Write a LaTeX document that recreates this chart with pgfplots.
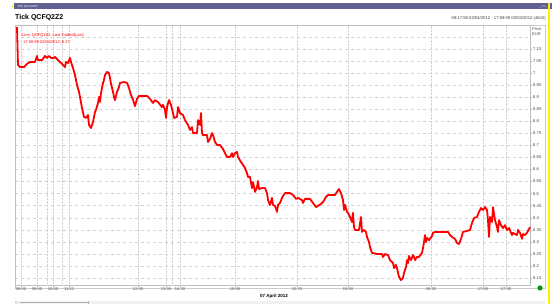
\documentclass[border=0pt]{standalone}
\usepackage{fontspec}
\setmainfont{Liberation Sans}
\usepackage{pgfplots}
\pgfplotsset{compat=1.18}
\definecolor{barpurple}{RGB}{96,96,146}
\definecolor{gridc}{RGB}{210,210,210}
\begin{document}
\begin{tikzpicture}[x=1pt,y=1pt]
\useasboundingbox (0,0) rectangle (552,304);
\fill[white] (0,0) rectangle (552,304);
\fill[barpurple] (14,295) rectangle (552,300.5);
\node[font=\fontsize{3}{3}\selectfont, text=white, anchor=west, inner sep=0] at (18,297.7) {ECI QUA.0252};
\node[font=\fontsize{3}{3}\selectfont, text=white, anchor=east, inner sep=0] at (546,297.7) {\_ \# x};
\fill[yellow!90!orange] (12.5,297.7) circle (1.2);
\fill[yellow] (547.5,0) rectangle (549.5,300.5);
\node[font=\bfseries\fontsize{7}{8}\selectfont, anchor=west, inner sep=0] at (15,286) {Tick QCFQ2Z2};
\node[font=\fontsize{4.2}{5}\selectfont, text=black!75, anchor=east, inner sep=0] at (546,286) {08:17:59 02/04/2012 - 17:59:59 02/04/2012 (4642)};
\draw[gray!40, line width=0.4pt] (15,16) rectangle (545,279);
\begin{axis}[
  at={(15pt,19pt)}, anchor=south west,
  width=515pt, height=260pt, scale only axis,
  xmin=15, xmax=530, ymin=6.1207, ymax=7.1996,
  axis line style={gray!50, line width=0.3pt},
  xtick={21,37,53,69,138,166,180,235,297,348,431,483,506},
  xticklabels={08:00,09:00,10:00,11:22,12:30,13:00,14:30,15:00,15:33,15:50,16:30,17:00,17:30},
  extra x ticks={47,62,172},
  extra x tick labels={},
  extra x tick style={tick style={draw=none}},
  ytick={6.15,6.2,6.25,6.3,6.35,6.4,6.45,6.5,6.55,6.6,6.65,6.7,6.75,6.8,6.85,6.9,6.95,7,7.05,7.1},
  yticklabels={6.15,6.2,6.25,6.3,6.35,6.4,6.45,6.5,6.55,6.6,6.65,6.7,6.75,6.8,6.85,6.9,6.95,7,7.05,7.10},
  extra y ticks={7.15},
  extra y tick labels={},
  extra y tick style={tick style={draw=none}},
  xtick pos=bottom, ytick pos=right, yticklabel pos=right,
  tick align=outside, major tick length=2pt,
  tick style={gray!60, line width=0.3pt},
  xmajorgrids, ymajorgrids,
  x grid style={gridc, densely dotted, line width=0.35pt},
  y grid style={gridc, dashed, line width=0.35pt},
  xticklabel style={font=\fontsize{4}{4}\selectfont, text=black!70, inner sep=1pt},
  yticklabel style={font=\fontsize{4.2}{4}\selectfont, text=black!70, inner sep=1pt},
  clip=false,
]
\addplot[red, line width=1.8pt, line join=round] table {
x y
17 7.191
18 7.034
20 7.025
24 7.025
27 7.038
30 7.046
35 7.046
37 7.071
38 7.054
42 7.054
45 7.071
47 7.063
49 7.071
51 7.063
54 7.063
55 7.067
58 7.054
60 7.046
63 7.034
65 7.025
66 7.046
68 7.042
70 7.063
71 7.046
73 7.021
75 6.992
77 6.951
79 6.922
80 6.901
82 6.855
84 6.818
86 6.814
88 6.826
89 6.785
91 6.772
93 6.797
95 6.839
96 6.847
98 6.876
99 6.901
100 6.880
101 6.917
103 6.959
104 6.971
105 6.992
107 7.005
109 7.000
110 6.980
111 6.955
113 6.922
114 6.901
115 6.888
117 6.922
119 6.942
120 6.959
124 6.963
127 6.959
129 6.938
131 6.909
133 6.890
135 6.863
137 6.893
139 6.905
147 6.905
150 6.893
153 6.876
155 6.888
158 6.880
162 6.859
163 6.868
165 6.847
166 6.814
167 6.859
169 6.888
171 6.868
173 6.834
174 6.814
177 6.818
178 6.859
180 6.834
183 6.826
185 6.805
188 6.785
190 6.764
192 6.776
193 6.751
197 6.751
198 6.805
200 6.785
201 6.834
202 6.751
203 6.743
207 6.743
208 6.714
210 6.727
212 6.751
213 6.743
215 6.714
217 6.702
220 6.702
223 6.685
225 6.668
227 6.652
230 6.652
232 6.668
233 6.652
235 6.668
237 6.673
238 6.652
241 6.631
243 6.619
245 6.606
247 6.585
248 6.569
250 6.570
252 6.523
253 6.548
255 6.507
257 6.527
258 6.552
259 6.519
262 6.523
265 6.523
267 6.502
268 6.473
270 6.453
272 6.482
273 6.453
275 6.449
277 6.424
278 6.453
280 6.461
282 6.482
283 6.490
285 6.502
290 6.502
293 6.494
296 6.478
298 6.482
302 6.473
303 6.461
305 6.478
310 6.478
313 6.461
316 6.444
318 6.449
321 6.457
323 6.465
326 6.486
328 6.494
335 6.494
337 6.507
339 6.519
341 6.502
343 6.473
344 6.432
345 6.453
347 6.424
348 6.420
350 6.403
352 6.382
353 6.420
354 6.361
355 6.349
359 6.349
361 6.403
362 6.341
364 6.349
366 6.341
367 6.320
369 6.299
370 6.278
372 6.254
377 6.249
382 6.249
383 6.237
385 6.249
388 6.245
390 6.224
392 6.216
393 6.212
394 6.191
396 6.204
397 6.191
399 6.154
401 6.141
403 6.150
404 6.171
406 6.195
407 6.224
408 6.212
409 6.241
411 6.224
413 6.245
414 6.237
415 6.224
417 6.237
419 6.237
422 6.254
423 6.274
424 6.299
425 6.328
426 6.299
427 6.316
429 6.307
432 6.324
433 6.337
435 6.341
448 6.341
450 6.328
452 6.320
455 6.312
457 6.295
459 6.291
461 6.312
463 6.341
467 6.345
470 6.349
472 6.378
474 6.399
477 6.403
479 6.424
481 6.440
483 6.432
485 6.444
487 6.432
488 6.390
489 6.320
490 6.403
492 6.382
493 6.444
495 6.390
497 6.361
498 6.341
499 6.390
501 6.369
503 6.357
505 6.369
507 6.349
509 6.357
512 6.328
513 6.337
517 6.328
518 6.349
520 6.337
522 6.312
523 6.332
525 6.328
527 6.337
528 6.345
530 6.361
};
\end{axis}
\node[font=\fontsize{4}{4}\selectfont, text=black!70, anchor=west, inner sep=0] at (532,275) {Price};
\node[font=\fontsize{4}{4}\selectfont, text=black!70, anchor=west, inner sep=0] at (532,269.5) {EUR};
\node[font=\fontsize{4}{5}\selectfont, text=red, anchor=west, inner sep=0] at (22,269) {Line, QCFQ2Z2, Last Traded(Last)};
\node[font=\fontsize{4}{5}\selectfont, text=red, anchor=west, inner sep=0] at (23,262) {17:59:59 02/04/2012, 6.37};
\node[font=\bfseries\fontsize{4.5}{5}\selectfont, anchor=center, inner sep=0] at (274,8) {07 April 2012};
\fill[green!60!black] (540,16) circle (2.6);
\fill[gray!12] (15,0) rectangle (545,3.2);
\draw[gray!60, line width=0.4pt] (20,1.6) -- (88,1.6);
\draw[gray!60, line width=0.4pt] (88,0) -- (88,3.2);
\node[font=\fontsize{3}{3}\selectfont, text=black!60, anchor=west, inner sep=0] at (15,1.6) {<<};
\end{tikzpicture}
\end{document}
